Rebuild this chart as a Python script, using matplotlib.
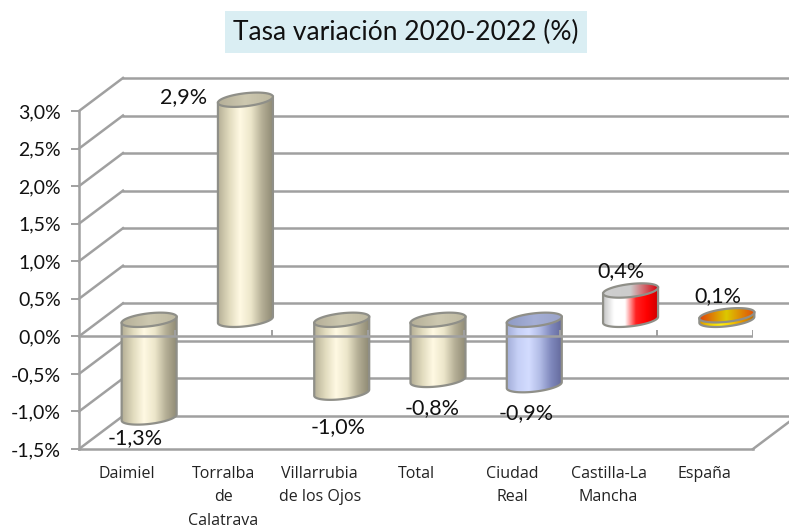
import numpy as np
from matplotlib import pyplot as plt
from matplotlib.colors import LinearSegmentedColormap
from matplotlib.patches import PathPatch, Polygon
from matplotlib.path import Path

plt.rcParams['font.family'] = ['Lato', 'DejaVu Sans']

categories = ['Daimiel', 'Torralba\nde\nCalatrava', 'Villarrubia\nde los Ojos', 'Total',
              'Ciudad\nReal', 'Castilla-La\nMancha', 'España']
values = [-1.3, 2.93, -0.97, -0.8, -0.87, 0.39, 0.06]
value_labels = ['-1,3%', '2,9%', '-1,0%', '-0,8%', '-0,9%', '0,4%', '0,1%']
y_ticks = [-1.5, -1.0, -0.5, 0.0, 0.5, 1.0, 1.5, 2.0, 2.5, 3.0]
y_tick_labels = ['-1,5%', '-1,0%', '-0,5%', '0,0%', '0,5%', '1,0%', '1,5%', '2,0%', '2,5%', '3,0%']

W, H = 789, 527
GREY = '#a0a0a0'
EDGE = '#8f8f88'

# profundidad del grafico "3D" en unidades de datos
DX = 44 / 96.3
DY = 33 / 75
# medidas del cilindro
A = 27.5 / 96.3
B = 6.5 / 75
K = 3 / 75

beige = ['#b5af96', '#e0dabd', '#fff9e3', '#ece6ca', '#b5af96', '#8f8a74']
blue = ['#a3aed8', '#c6d0f6', '#d3dcff', '#b2bce6', '#8089bd', '#646a9c']
red = ['#c4c4c4', '#ffffff', '#ffffff', '#ff2020', '#ff0000', '#d00000']
spain = ['#d89000', '#f0d000', '#ffee10', '#f4c800', '#e09000', '#c07000']
side_maps = [beige, beige, beige, beige, blue, red, spain]
top_maps = [['#b5af98', '#cdc8b0', '#bdb8a0'], ['#b5af98', '#cdc8b0', '#bdb8a0'],
            ['#b5af98', '#cdc8b0', '#bdb8a0'], ['#b5af98', '#cdc8b0', '#bdb8a0'],
            ['#8f9bc4', '#a5afd6', '#9aa3c8'], ['#cfcfcf', '#cccccc', '#d8000c'],
            ['#e0400a', '#dcc800', '#e0500a']]
# desplazamiento de las etiquetas respecto al centro de la barra
label_dx = [-0.15, -0.64, -0.04, -0.06, -0.08, -0.10, -0.09]
label_y = [-1.36, 3.18, -1.21, -0.95, -1.02, 0.87, 0.53]

fig = plt.figure(figsize=(W / 100, H / 100), dpi=100)
ax = fig.add_axes([79 / W, 1 - 449 / H, 674 / W, 338 / H])
ax.set_xlim(0, 7)
ax.set_ylim(-1.5, 3)

# paredes: lineas del fondo y diagonales
for t in y_ticks:
    ax.plot([0, DX], [t, t + DY], color=GREY, lw=1.8, clip_on=False, zorder=1)
    ax.plot([DX, 7 + DX], [t + DY, t + DY], color=GREY, lw=1.8, clip_on=False, zorder=1)
ax.plot([7, 7 + DX], [-1.5, -1.5 + DY], color=GREY, lw=1.8, clip_on=False, zorder=1)


def cylinder(i, v):
    cx = i + 0.5 + DX / 2
    base = DY / 2
    t = np.linspace(0, 2 * np.pi, 121)
    ex = cx + A * np.cos(t)
    ey = B * np.sin(t) + K * np.cos(t)
    lo, hi = min(base, base + v), max(base, base + v)
    # cuerpo: media elipse inferior abajo + media elipse superior arriba
    tt = np.linspace(np.pi, 2 * np.pi, 61)
    bx = cx + A * np.cos(tt)
    by = lo + B * np.sin(tt) + K * np.cos(tt)
    ux = cx + A * np.cos(tt[::-1])
    uy = hi + K * np.cos(tt[::-1])
    verts = np.column_stack([np.r_[bx, ux], np.r_[by, uy]])
    body = Polygon(verts, closed=True, fc='none', ec=EDGE, lw=1.6, clip_on=False, zorder=4)
    ax.add_patch(body)
    grad = np.linspace(0, 1, 256).reshape(1, -1)
    cmap = LinearSegmentedColormap.from_list('side', side_maps[i])
    im = ax.imshow(grad, extent=[cx - A, cx + A, lo - B - K, hi + K], aspect='auto', cmap=cmap,
                   origin='lower', zorder=3)
    im.set_clip_box(fig.bbox)
    im.set_clip_path(PathPatch(Path(verts), transform=ax.transData))
    # tapa
    cap = np.column_stack([ex, hi + ey])
    im2 = ax.imshow(grad, extent=[cx - A, cx + A, hi - B - K, hi + B + K], aspect='auto',
                    cmap=LinearSegmentedColormap.from_list('top', top_maps[i]),
                    origin='lower', zorder=5)
    im2.set_clip_box(fig.bbox)
    im2.set_clip_path(PathPatch(Path(cap), transform=ax.transData))
    ax.add_patch(Polygon(cap, closed=True, fc='none', ec=EDGE, lw=1.6, clip_on=False, zorder=6))


for i, v in enumerate(values):
    cylinder(i, v)

ax.set_xlim(0, 7)
ax.set_ylim(-1.5, 3)

# eje frontal en 0 con sus marcas, por encima de las barras
ax.axhline(0, color=GREY, lw=1.8, zorder=7)
ax.vlines(range(1, 8), 0, 0.08, color=GREY, lw=1.4, zorder=7)

for s in ['top', 'right']:
    ax.spines[s].set_visible(False)
for s in ['left', 'bottom']:
    ax.spines[s].set_color(GREY)
    ax.spines[s].set_linewidth(1.8)
    ax.spines[s].set_zorder(7)

ax.set_yticks(y_ticks)
ax.set_yticklabels(y_tick_labels, fontsize=14, color='#111111')
ax.tick_params(axis='y', length=6, width=1.4, color=GREY, pad=7)
ax.set_xticks([i + 0.5 for i in range(7)])
ax.set_xticklabels(categories, fontsize=11.5, family=['Open Sans', 'DejaVu Sans'], color='#222222',
                   linespacing=1.62)
ax.tick_params(axis='x', length=0, pad=12)

for i, txt in enumerate(value_labels):
    ax.text(i + 0.5 + DX / 2 + label_dx[i], label_y[i], txt, fontsize=15.5, ha='center',
            va='center', color='#111111', zorder=8, clip_on=False)

fig.text(406 / W, 1 - 32 / H, 'Tasa variación 2020-2022 (%)', fontsize=19, ha='center', va='center',
         color='#111111', bbox=dict(fc='#daeef3', ec='none', boxstyle='square,pad=0.32'))

plt.savefig('out.png', dpi=100)
